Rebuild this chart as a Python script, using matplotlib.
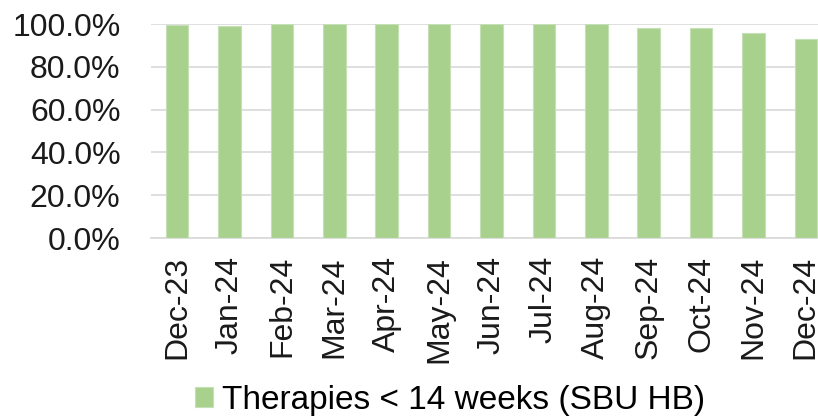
import matplotlib.pyplot as plt
from matplotlib.ticker import PercentFormatter

plt.rcParams['font.family'] = ['Liberation Sans', 'DejaVu Sans']

months = ["Dec-23", "Jan-24", "Feb-24", "Mar-24", "Apr-24", "May-24", "Jun-24",
          "Jul-24", "Aug-24", "Sep-24", "Oct-24", "Nov-24", "Dec-24"]
share = [99.4, 99.2, 100.0, 100.0, 100.0, 100.0, 100.0,
         100.0, 100.0, 98.0, 98.0, 95.9, 92.8]
series_name = "Therapies < 14 weeks (SBU HB)"

fig = plt.figure(figsize=(8.18, 4.17), dpi=100)
# plot area is cut at the right edge in the reference
ax = fig.add_axes([151 / 818, 179 / 417, 681 / 818, 214 / 417])

x = range(len(months))
ax.bar(x, share, width=0.43, color='#a9d18e', edgecolor='#c5e0b4',
       linewidth=0.8, label=series_name, zorder=3)

ax.set_xlim(-0.5, len(months) - 0.5)
ax.set_ylim(0, 100)
ax.set_yticks(range(0, 101, 20))
ax.yaxis.set_major_formatter(PercentFormatter(decimals=1))
ax.set_xticks(list(x))
ax.set_xticklabels(months, rotation=90)

ax.grid(axis='y', color='#d9d9d9', linewidth=1.2, zorder=0)
for s in ['top', 'right', 'left']:
    ax.spines[s].set_visible(False)
ax.spines['bottom'].set_color('#d9d9d9')
ax.spines['bottom'].set_linewidth(1.2)
ax.tick_params(axis='both', length=0, labelsize=23, colors='#1a1a1a')
ax.tick_params(axis='y', pad=22)
ax.tick_params(axis='x', pad=13)

fig.legend(loc='center', bbox_to_anchor=(450 / 818, 17 / 417), frameon=False,
           fontsize=24, handlelength=0.55, handleheight=0.55, handletextpad=0.25,
           borderpad=0)

fig.savefig('out.png', dpi=100)
